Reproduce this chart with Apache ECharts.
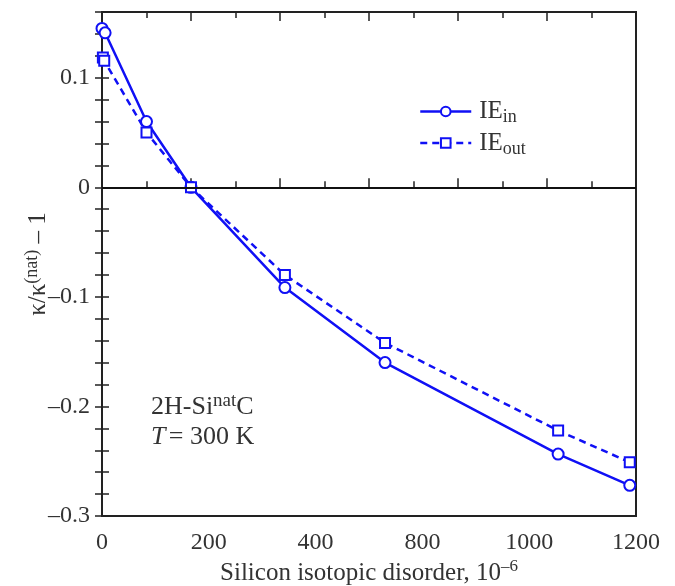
<!DOCTYPE html>
<html>
<head>
<meta charset="utf-8">
<script src="https://cdn.jsdelivr.net/npm/echarts@6/dist/echarts.min.js"></script>
<style>
  html, body { margin: 0; padding: 0; background: #fff; }
  #chart { width: 675px; height: 586px; }
</style>
</head>
<body>
<div id="chart"></div>
<script>
// values
var xIn  = [0, 7, 100, 200, 411, 636, 1025, 1186];
var yIn  = [0.145, 0.141, 0.060, 0.000, -0.0915, -0.160, -0.2435, -0.272];
var xOut = [2, 5, 100, 200, 411, 636, 1025, 1186];
var yOut = [0.1185, 0.1155, 0.050, 0.000, -0.080, -0.142, -0.222, -0.251];

// bottom labels as printed in the figure (evenly spread along the axis)
var xTickLabels = ['0', '200', '400', '800', '1000', '1200'];
var yTickValues = [-0.3, -0.2, -0.1, 0, 0.1];
var yTickLabels = ['\u20130.3', '\u20130.2', '\u20130.1', '0', '0.1'];

var seriesNames = ['IE_in', 'IE_out'];

function pairs(xs, ys) {
    return xs.map(function (x, i) { return [x, ys[i]]; });
}

var blue = '#1010f5';
var ink = '#222';
var txt = '#333';
var font = 'Liberation Serif';

var chart = echarts.init(document.getElementById('chart'));

var tickAxisX = function (pos) {
    return {
        type: 'value', position: pos, min: 0, max: 1200, interval: 200,
        axisLine: { show: false },
        axisTick: { show: true, inside: true, length: 9, lineStyle: { color: ink, width: 1.5 } },
        minorTick: { show: true, splitNumber: 2, length: 6, lineStyle: { color: ink, width: 1.5 } },
        axisLabel: { show: false },
        splitLine: { show: false }
    };
};
var tickAxisY = function (pos, labels) {
    return {
        type: 'value', position: pos, min: -0.3, max: 0.16, interval: 0.02,
        axisLine: { show: false },
        axisTick: { show: true, inside: true, length: 7, lineStyle: { color: ink, width: 1.5 } },
        axisLabel: {
            show: labels, margin: 12, fontFamily: font, fontSize: 24, color: txt,
            formatter: function (v) {
                for (var i = 0; i < yTickValues.length; i++) {
                    if (Math.abs(v - yTickValues[i]) < 1e-6) return yTickLabels[i];
                }
                return '';
            }
        },
        splitLine: { show: false }
    };
};

var xBottom = tickAxisX('bottom');
xBottom.name = '{t|Silicon isotopic disorder, 10}{s|\u20136}';
xBottom.nameLocation = 'middle';
xBottom.nameGap = 42;
xBottom.nameMoveOverlap = false;
xBottom.nameTextStyle = {
    rich: {
        t: { fontFamily: font, fontSize: 25, color: txt },
        s: { fontFamily: font, fontSize: 17, color: txt, padding: [0, 0, 13, 0] }
    }
};

var labelAxis = {
    type: 'value', position: 'bottom', min: 0, max: 1200, interval: 240,
    axisLine: { show: false },
    axisTick: { show: false },
    splitLine: { show: false },
    axisLabel: {
        margin: 15, fontFamily: font, fontSize: 24, color: txt,
        formatter: function (v) { return xTickLabels[Math.round(v / 240)]; }
    }
};

var yLeft = tickAxisY('left', true);
yLeft.name = '{k|\u03ba/\u03ba}{s|(nat)}{k| \u2013 1}';
yLeft.nameLocation = 'middle';
yLeft.nameGap = 48;
yLeft.nameMoveOverlap = false;
yLeft.nameTextStyle = {
    rich: {
        k: { fontFamily: font, fontSize: 25, color: txt },
        s: { fontFamily: font, fontSize: 18, color: txt, padding: [0, 0, 13, 0] }
    }
};

var option = {
    animation: false,
    grid: {
        left: 102, right: 39, top: 12, bottom: 70,
        outerBoundsMode: 'none',
        show: true, borderColor: ink, borderWidth: 2, backgroundColor: 'transparent'
    },
    legend: {
        data: seriesNames,
        orient: 'vertical',
        left: 414, top: 94,
        itemWidth: 51, itemHeight: 12, itemGap: 4,
        lineStyle: { width: 2.5 },
        formatter: function (name) {
            return '{b|IE}{s|' + name.split('_')[1] + '}';
        },
        textStyle: {
            rich: {
                b: { fontFamily: font, fontSize: 25, color: txt, padding: [0, 0, 0, 3] },
                s: { fontFamily: font, fontSize: 18, color: txt, padding: [12, 0, 0, 0] }
            }
        }
    },
    xAxis: [xBottom, labelAxis, tickAxisX('top')],
    yAxis: [yLeft, tickAxisY('right', false)],
    graphic: [
        {
            type: 'text', left: 151, top: 392,
            style: {
                text: '{a|2H-Si}{s|nat}{a|C}',
                rich: {
                    a: { fontFamily: font, fontSize: 26, fill: txt },
                    s: { fontFamily: font, fontSize: 19, fill: txt, padding: [0, 0, 11, 0] }
                }
            }
        },
        {
            type: 'text', left: 151, top: 424,
            style: {
                text: '{i|T} {a|= 300 K}',
                rich: {
                    i: { fontFamily: font, fontSize: 26, fontStyle: 'italic', fill: txt },
                    a: { fontFamily: font, fontSize: 26, fill: txt }
                }
            }
        }
    ],
    series: [
        {
            name: seriesNames[0], type: 'line', xAxisIndex: 0, yAxisIndex: 0,
            data: pairs(xIn, yIn),
            symbol: 'emptyCircle', symbolSize: 11,
            itemStyle: { color: blue, borderWidth: 1.3 },
            lineStyle: { color: blue, width: 2.5 },
            z: 3,
            markLine: {
                silent: true, symbol: 'none', label: { show: false },
                lineStyle: { color: '#111', type: 'solid', width: 2 },
                data: [{ yAxis: 0 }]
            }
        },
        {
            name: seriesNames[1], type: 'line', xAxisIndex: 0, yAxisIndex: 0,
            data: pairs(xOut, yOut),
            symbol: 'emptyRect', symbolSize: 10,
            itemStyle: { color: blue, borderWidth: 1.3 },
            lineStyle: { color: blue, width: 2.5, type: [7, 5] },
            z: 3
        }
    ]
};

chart.setOption(option);
window.addEventListener('resize', chart.resize);
</script>
</body>
</html>
